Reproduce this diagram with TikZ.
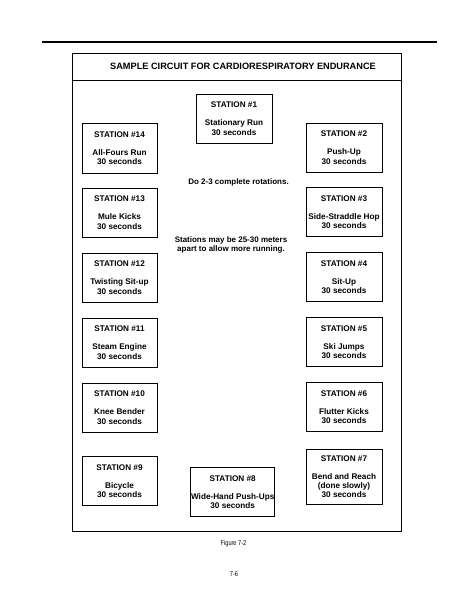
\documentclass[tikz,border=0pt]{standalone}
\usepackage{fontspec}
\setmainfont{Liberation Sans}
\usepackage{tikz}

\tikzset{
	station/.style={draw, line width=0.8pt, inner sep=0pt, minimum width=75pt, minimum height=49pt,
		align=center, font=\bfseries\fontsize{8.2}{9.2}\selectfont},
	note/.style={align=center, font=\bfseries\fontsize{8}{7}\selectfont}
}

\begin{document}
\begin{tikzpicture}[x=1pt, y=-1pt]
	\useasboundingbox (0, 0) rectangle (464, 600);
	\fill[white] (0, 0) rectangle (464, 600);

	% page rule and frame
	\draw[line width=1.2pt] (42, 42) -- (437, 42);
	\draw[line width=0.9pt] (72, 53) rectangle (401, 531);
	\draw[line width=0.8pt] (72, 80) -- (401, 80);
	\node[font=\bfseries\fontsize{9.2}{10}\selectfont] (title) at (243, 66) {SAMPLE CIRCUIT FOR CARDIORESPIRATORY ENDURANCE};

	% stations
	\node[station, minimum width=76pt] (s1) at (234, 118.5) {STATION \#1\\[9pt]Stationary Run\\30 seconds};
	\node[station, minimum width=76pt] (s2) at (344, 147.5) {STATION \#2\\[9pt]Push-Up\\30 seconds};
	\node[station, minimum width=76pt] (s3) at (344, 212) {STATION \#3\\[9pt]Side-Straddle Hop\\30 seconds};
	\node[station, minimum width=76pt] (s4) at (344, 277) {STATION \#4\\[9pt]Sit-Up\\30 seconds};
	\node[station, minimum width=76pt] (s5) at (344, 342) {STATION \#5\\[9pt]Ski Jumps\\30 seconds};
	\node[station, minimum width=76pt] (s6) at (344, 407) {STATION \#6\\[9pt]Flutter Kicks\\30 seconds};
	\node[station, minimum width=76pt, minimum height=55pt] (s7) at (344, 476.5) {STATION \#7\\[9pt]Bend and Reach\\(done slowly)\\30 seconds};
	\node[station, minimum width=84pt] (s8) at (232.7, 492) {STATION \#8\\[9pt]Wide-Hand Push-Ups\\30 seconds};
	\node[station] (s9) at (119.5, 481) {STATION \#9\\[9pt]Bicycle\\30 seconds};
	\node[station] (s10) at (119.5, 407.5) {STATION \#10\\[9pt]Knee Bender\\30 seconds};
	\node[station] (s11) at (119.5, 342.5) {STATION \#11\\[9pt]Steam Engine\\30 seconds};
	\node[station] (s12) at (119.5, 277.5) {STATION \#12\\[9pt]Twisting Sit-up\\30 seconds};
	\node[station] (s13) at (119.5, 212.5) {STATION \#13\\[9pt]Mule Kicks\\30 seconds};
	\node[station, minimum height=50pt] (s14) at (119.5, 148) {STATION \#14\\[9pt]All-Fours Run\\30 seconds};

	% notes
	\node[note] (rounds) at (238.5, 182) {Do 2-3 complete rotations.};
	\node[note] (spacing) at (231, 245) {Stations may be 25-30 meters\\apart to allow more running.};

	% caption and page number
	\node[font=\fontsize{7}{8}\selectfont, xscale=0.8] (fig) at (233.5, 544) {Figure 7-2};
	\node[font=\fontsize{7}{8}\selectfont, xscale=0.8] (page) at (234, 574) {7-6};
\end{tikzpicture}
\end{document}
